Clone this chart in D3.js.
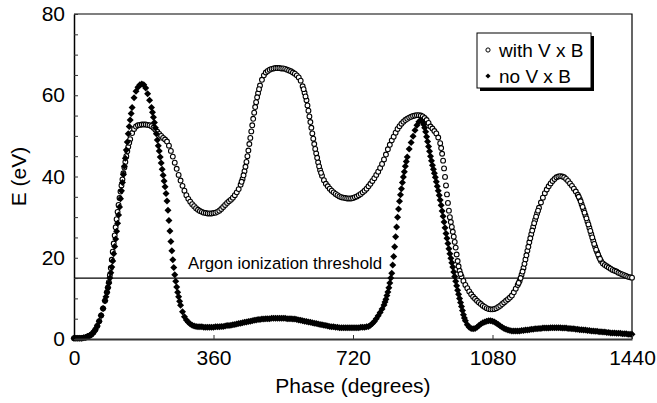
<!DOCTYPE html>
<html>
<head>
<meta charset="utf-8">
<script src="https://cdn.jsdelivr.net/npm/d3@7"></script>
<style>
  html, body { margin: 0; padding: 0; background: #fff; }
  svg { display: block; font-family: "Liberation Sans", Arial, sans-serif; }
</style>
</head>
<body>
<svg id="chart" width="657" height="403"></svg>
<script>
// ---- data (phase in degrees, 5-degree sampling from 0 to 1440) ----
const phaseStart = 0, phaseEnd = 1440, phaseStep = 5;
const xTicks = [0, 360, 720, 1080, 1440];
const yTicks = [0, 20, 40, 60, 80];
const thresholdEV = 15;
const thresholdLabel = "Argon ionization threshold";
const seriesNames = ["with V x B", "no V x B"];

const withVxB = [
  0.2,0.2,0.2,0.2,0.2,0.3,0.4,0.6,0.8,1.1,
  1.6,2.3,3.2,4.4,5.8,7.5,9.4,11.5,14.0,17.5,
  21.5,25.5,29.5,33.0,36.3,39.3,42.2,45.0,47.3,49.2,
  50.7,51.7,52.3,52.6,52.7,52.8,52.8,52.8,52.7,52.6,
  52.4,52.0,51.5,51.0,50.5,50.0,49.5,49.1,48.6,47.6,
  46.3,44.9,43.4,41.9,40.4,39.0,37.7,36.5,35.4,34.5,
  33.8,33.2,32.7,32.2,31.8,31.5,31.3,31.1,31.0,30.9,
  30.9,30.9,31.0,31.1,31.3,31.6,32.0,32.5,33.0,33.5,
  33.9,34.3,34.8,35.4,36.1,36.9,38.0,39.4,41.3,43.6,
  46.4,49.5,52.6,55.7,58.3,60.5,62.4,63.8,64.9,65.6,
  66.0,66.3,66.5,66.6,66.7,66.7,66.7,66.6,66.6,66.5,
  66.3,66.1,65.9,65.6,65.3,64.9,64.4,63.6,62.2,60.6,
  58.8,56.2,53.4,50.6,48.0,45.7,43.5,41.6,40.2,39.1,
  38.2,37.6,37.0,36.5,36.1,35.7,35.4,35.1,34.9,34.8,
  34.7,34.6,34.6,34.6,34.7,34.9,35.1,35.4,35.7,36.1,
  36.5,37.0,37.6,38.2,38.9,39.6,40.4,41.2,42.1,43.1,
  44.2,45.4,46.7,47.8,48.9,49.8,50.8,51.7,52.4,53.0,
  53.5,53.9,54.2,54.5,54.7,54.9,55.0,55.1,55.1,55.0,
  54.8,54.4,53.9,53.2,52.3,51.8,51.2,50.6,49.6,48.2,
  45.6,42.0,37.8,33.5,30.0,27.6,25.2,22.5,19.2,16.8,
  15.4,14.3,13.3,12.5,11.7,11.0,10.4,9.9,9.4,9.0,
  8.6,8.2,7.9,7.6,7.4,7.3,7.3,7.4,7.6,7.9,
  8.2,8.6,9.0,9.4,9.8,10.2,10.7,11.5,12.4,13.3,
  14.3,15.8,17.5,19.6,21.7,23.8,25.8,27.6,29.3,30.9,
  32.3,33.6,34.8,35.9,36.8,37.6,38.3,38.9,39.4,39.8,
  40.0,40.1,40.0,39.8,39.4,38.9,38.3,37.7,37.0,36.3,
  35.5,34.5,33.2,31.8,30.4,28.9,27.4,25.8,24.2,22.7,
  21.4,20.2,19.2,18.6,18.2,17.9,17.6,17.3,17.0,16.8,
  16.6,16.3,16.1,15.9,15.7,15.5,15.3,15.2,15.1
];

const noVxB = [
  0.2,0.2,0.2,0.2,0.2,0.3,0.4,0.6,0.8,1.1,
  1.6,2.3,3.2,4.4,5.8,7.5,9.4,11.5,13.8,16.3,
  19.2,22.8,26.5,30.5,34.5,38.5,42.5,46.5,50.5,53.9,
  57.0,59.4,61.0,62.0,62.6,62.8,62.6,61.8,60.4,58.8,
  57.0,54.6,52.0,49.0,46.3,43.3,40.3,37.5,34.0,29.2,
  24.0,19.5,15.8,12.8,10.4,8.3,6.7,5.5,4.7,4.1,
  3.7,3.4,3.2,3.1,3.0,3.0,3.0,2.9,2.9,2.9,
  2.9,2.9,2.9,3.0,3.0,3.0,3.1,3.1,3.2,3.3,
  3.3,3.4,3.5,3.6,3.7,3.8,3.9,4.0,4.1,4.2,
  4.3,4.4,4.5,4.6,4.7,4.8,4.8,4.9,4.9,5.0,
  5.0,5.0,5.1,5.1,5.1,5.1,5.1,5.1,5.1,5.1,
  5.0,5.0,5.0,4.9,4.9,4.8,4.7,4.6,4.5,4.4,
  4.3,4.2,4.1,4.0,3.9,3.8,3.7,3.6,3.5,3.4,
  3.3,3.2,3.1,3.0,3.0,2.9,2.9,2.8,2.8,2.8,
  2.8,2.8,2.8,2.8,2.8,2.8,2.8,2.8,2.9,2.9,
  2.9,3.0,3.1,3.4,3.8,4.3,5.0,5.7,6.5,7.4,
  8.4,9.8,11.6,13.8,16.2,20.3,25.2,30.0,33.9,37.0,
  39.9,42.5,44.8,46.8,48.4,49.9,51.4,52.6,53.5,53.9,
  53.4,52.0,49.8,47.4,45.0,42.8,40.8,38.7,36.5,34.2,
  31.5,28.8,26.0,23.5,21.0,18.8,16.5,14.2,12.0,10.0,
  8.0,6.0,4.5,3.5,2.9,2.6,2.5,2.6,2.9,3.3,
  3.7,4.0,4.2,4.4,4.5,4.5,4.4,4.2,3.9,3.6,
  3.2,2.9,2.6,2.4,2.2,2.1,2.0,2.0,2.0,2.0,
  2.0,2.1,2.1,2.2,2.2,2.3,2.4,2.4,2.5,2.5,
  2.6,2.6,2.7,2.7,2.7,2.7,2.8,2.8,2.8,2.8,
  2.8,2.8,2.7,2.7,2.7,2.6,2.6,2.5,2.5,2.4,
  2.4,2.3,2.3,2.2,2.2,2.1,2.1,2.0,2.0,1.9,
  1.9,1.8,1.8,1.7,1.7,1.6,1.6,1.5,1.5,1.5,
  1.4,1.4,1.4,1.3,1.3,1.3,1.2,1.2,1.2
];

// extra samples read on the steep flanks, where the original markers are denser
const withVxBSteepPhase = [
  87.5,92.5,97.5,102.5,107.5,112.5,117.5,122.5,127.5,132.5,137.5,142.5,
  432.5,437.5,442.5,447.5,452.5,457.5,462.5,467.5,472.5,477.5,
  592.5,597.5,602.5,607.5,612.5,617.5,622.5,627.5,632.5,637.5,
  947.5,952.5,957.5,962.5,967.5,972.5,977.5,982.5,987.5,992.5,997.5,
  1147.5,1152.5,1157.5,1162.5,1167.5,1172.5,1177.5,1182.5,1187.5,1192.5,1197.5,
  1302.5,1307.5,1312.5,1317.5,1322.5,1327.5,1332.5,1337.5,1342.5,1347.5,1352.5,1357.5
];
const withVxBSteep = [
  12.7,15.7,19.5,23.5,27.5,31.3,34.7,37.8,40.8,43.6,46.2,48.3,
  38.7,40.3,42.4,45.0,48.0,51.1,54.2,57.1,59.5,61.5,
  61.5,59.7,57.5,54.8,52.0,49.3,46.8,44.6,42.5,40.9,
  47.0,43.9,39.9,35.6,31.6,28.8,26.4,23.9,20.8,17.9,16.0,
  13.8,15.0,16.6,18.5,20.6,22.7,24.8,26.7,28.5,30.1,31.6,
  35.0,33.9,32.5,31.1,29.7,28.2,26.6,25.0,23.4,22.0,20.8,19.7
];
const noVxBSteepPhase = [
  82.5,87.5,92.5,97.5,102.5,107.5,112.5,117.5,122.5,127.5,132.5,137.5,142.5,147.5,
  202.5,207.5,212.5,217.5,222.5,227.5,232.5,237.5,242.5,247.5,252.5,257.5,262.5,267.5,272.5,
  802.5,807.5,812.5,817.5,822.5,827.5,832.5,837.5,842.5,847.5,852.5,857.5,
  902.5,907.5,912.5,917.5,922.5,927.5,932.5,937.5,942.5,947.5,952.5,957.5,962.5,967.5,
  972.5,977.5,982.5,987.5,992.5,997.5,1002.5,1007.5
];
const noVxBSteep = [
  10.4,12.6,15.0,17.7,21.0,24.6,28.5,32.5,36.5,40.5,44.5,48.5,52.3,55.5,
  55.8,53.3,50.5,47.6,44.8,41.8,38.9,35.8,31.7,26.6,21.7,17.6,14.2,11.5,9.3,
  9.1,10.7,12.6,15.0,18.2,22.7,27.6,32.0,35.5,38.5,41.2,43.7,
  52.8,51.0,48.6,46.2,43.9,41.8,39.8,37.6,35.4,32.9,30.2,27.4,24.8,22.2,
  19.9,17.7,15.4,13.1,11.0,9.0,7.0,5.2
];

const phases = d3.range(phaseStart, phaseEnd + 1, phaseStep);

// ---- layout ----
const svg = d3.select("#chart");
const L = 74, R = 632, T = 14, B = 339;

const x = d3.scaleLinear().domain([0, 1440]).range([L, R]);
const y = d3.scaleLinear().domain([0, 80]).range([B, T]);

const circlePts = phases.map((p, i) => [p, withVxB[i]])
  .concat(withVxBSteepPhase.map((p, i) => [p, withVxBSteep[i]]));
const diamondPts = phases.map((p, i) => [p, noVxB[i]])
  .concat(noVxBSteepPhase.map((p, i) => [p, noVxBSteep[i]]));

// frame (top & right)
svg.append("path")
  .attr("d", `M${L},${T}H${R}V${B}`)
  .attr("fill", "none").attr("stroke", "#000").attr("stroke-width", 1.2);

// threshold line
svg.append("line")
  .attr("x1", x(0)).attr("x2", x(1440))
  .attr("y1", y(thresholdEV)).attr("y2", y(thresholdEV))
  .attr("stroke", "#000").attr("stroke-width", 1.2);

svg.append("text")
  .attr("x", 188).attr("y", y(thresholdEV) - 9)
  .attr("font-size", 16.8).attr("fill", "#000")
  .text(thresholdLabel);

// circles: with V x B
svg.append("g").selectAll("circle")
  .data(circlePts)
  .join("circle")
  .attr("cx", d => x(d[0])).attr("cy", d => y(d[1]))
  .attr("r", 2.4)
  .attr("fill", "#fff").attr("stroke", "#000").attr("stroke-width", 1.1);

// diamonds: no V x B
const dia = "M0,-3.5L3.5,0L0,3.5L-3.5,0Z";
svg.append("g").selectAll("path")
  .data(diamondPts)
  .join("path")
  .attr("d", dia)
  .attr("transform", d => `translate(${x(d[0])},${y(d[1])})`)
  .attr("fill", "#000");

// axes
const xAxis = d3.axisBottom(x).tickValues(xTicks).tickSizeInner(-4).tickSizeOuter(0).tickPadding(11)
  .tickFormat(d3.format("d"));
const gx = svg.append("g").attr("transform", `translate(0,${B})`).call(xAxis);
gx.select(".domain").attr("stroke", "#333").attr("stroke-width", 2);
gx.selectAll(".tick line").attr("stroke", "#333");
gx.selectAll("text").attr("font-size", 21).attr("font-family", "Liberation Sans, Arial, sans-serif").attr("fill", "#000");

const yAxis = d3.axisLeft(y).tickValues(d3.range(0, 81, 5)).tickSizeInner(-4).tickSizeOuter(0).tickPadding(9)
  .tickFormat(d => yTicks.includes(d) ? d : "");
const gy = svg.append("g").attr("transform", `translate(${L},0)`).call(yAxis);
gy.select(".domain").attr("stroke", "#000").attr("stroke-width", 1.5);
gy.selectAll(".tick line").attr("stroke", "#333");
gy.selectAll("text").attr("font-size", 21).attr("font-family", "Liberation Sans, Arial, sans-serif").attr("fill", "#000");

// axis titles
svg.append("text")
  .attr("x", (L + R) / 2).attr("y", 393)
  .attr("text-anchor", "middle").attr("font-size", 21)
  .text("Phase (degrees)");

svg.append("text")
  .attr("transform", `translate(26,${(T + B) / 2}) rotate(-90)`)
  .attr("text-anchor", "middle").attr("font-size", 21)
  .text("E (eV)");

// legend
const lg = svg.append("g");
lg.append("rect").attr("x", 480).attr("y", 36).attr("width", 114).attr("height", 55).attr("fill", "#000");
lg.append("rect").attr("x", 477).attr("y", 33).attr("width", 114).attr("height", 55)
  .attr("fill", "#fff").attr("stroke", "#000").attr("stroke-width", 1);
lg.append("circle").attr("cx", 488).attr("cy", 50).attr("r", 2.1)
  .attr("fill", "#fff").attr("stroke", "#000").attr("stroke-width", 1);
lg.append("path").attr("d", "M0,-2.6L2.6,0L0,2.6L-2.6,0Z").attr("transform", "translate(488,76)").attr("fill", "#000");
lg.append("text").attr("x", 499).attr("y", 57).attr("font-size", 19).text(seriesNames[0]);
lg.append("text").attr("x", 499).attr("y", 83).attr("font-size", 19).text(seriesNames[1]);
</script>
</body>
</html>
